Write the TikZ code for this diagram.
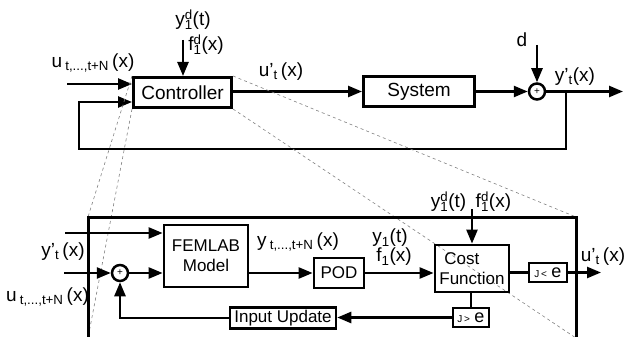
\documentclass[tikz,border=0pt]{standalone}
\usepackage{fontspec}
\setmainfont{Liberation Sans}
\usetikzlibrary{arrows.meta,calc}
% superscript stacked over subscript
\newcommand\ssb[2]{\rlap{\textsuperscript{#1}}\textsubscript{#2}}
\begin{document}
\begin{tikzpicture}[x=1pt,y=-1pt,
  ln/.style={line width=2.5pt},
  arr/.style={line width=2.5pt,-{Triangle[length=14pt,width=11pt]}},
  blk/.style={draw,line width=3pt,inner sep=0pt,font=\fontsize{19}{21}\selectfont},
  blkb/.style={draw,line width=2.8pt,inner sep=0pt,font=\fontsize{17}{20}\selectfont},
  blkc/.style={draw,line width=2.5pt,inner sep=0pt,font=\fontsize{17}{20}\selectfont},
  sumc/.style={draw,circle,line width=2.5pt,minimum size=16pt,inner sep=0pt,font=\fontsize{10}{10}\selectfont},
  lbl/.style={inner sep=0pt,font=\fontsize{19}{21}\selectfont},
  zoomln/.style={gray,line width=0.6pt,dash pattern=on 3pt off 3pt},
  bigbox/.style={line width=3pt}]
\useasboundingbox (0,0) rectangle (625,337);

% ---------- upper loop ----------
\node[blk,minimum width=98pt,minimum height=30pt] (ctrl) at (182.5,92.5) {Controller};
\node[blk,minimum width=111pt,minimum height=30pt] (sys) at (419,91.5) {System};
\node[sumc] (s1) at (537,91.5) {+};

\coordinate (uin) at (67,84);
\coordinate (fbin) at (79,102);
\coordinate (fbc) at (79,149);
\coordinate (ydtop) at (183,40);
\coordinate (dtop) at (537,45);
\coordinate (fbtap) at (566,91.5);
\coordinate (yout) at (623,91.5);

\draw[arr] (uin) -- (ctrl.west |- uin);
\draw[arr] (ydtop) -- (ctrl.north -| ydtop);
\draw[arr] (ctrl.east |- s1) -- (sys.west |- s1);
\draw[arr] (sys.east |- s1) -- (s1.west);
\draw[arr] (dtop) -- (s1.north);
\draw[arr] (s1.east) -- (yout);
\draw[arr] (fbtap) |- (fbc) -- (fbin) -- (ctrl.west |- fbin);

\node[lbl] (lu) at (93,63) {u\,\textsubscript{t,...,t+N}\,(x)};
\node[lbl] (lyd) at (193,20) {y\ssb{d}{1}(t)};
\node[lbl] (lfd) at (206,45) {f\ssb{d}{1}(x)};
\node[lbl] (lup) at (281,72) {u'\textsubscript{t}\,(x)};
\node[lbl] (ld) at (522,40) {d};
\node[lbl] (lyp) at (575,77) {y'\textsubscript{t}(x)};

% ---------- enlarged controller ----------
\coordinate (bnw) at (88,217);
\coordinate (bne) at (576,217);
\coordinate (bsw) at (88,338);
\coordinate (bse) at (576,338);

\draw[zoomln] (ctrl.north west) -- (bnw);
\draw[zoomln] (ctrl.south west) -- (bsw);
\draw[zoomln] (ctrl.north east) -- (bne);
\draw[zoomln] (ctrl.south east) -- (bse);

\draw[bigbox] (bsw) -- (bnw) -- (bne) -- (bse);

\node[blkb,minimum width=84pt,minimum height=62pt,align=center] (fem) at (206,256) {FEMLAB\\Model};
\node[blkb,minimum width=50pt,minimum height=30pt] (pod) at (339,273) {POD};
\node[blkb,minimum width=74pt,minimum height=47pt] (cost) at (472,268.5) {};
\node[inner sep=0pt,font=\fontsize{17}{19.5}\selectfont,align=left] (costtxt) at (cost.center) {\hspace{5pt}Cost\\Function};
\node[blkc,minimum width=38pt,minimum height=19pt] (jlt) at (548,272.5) {{\fontsize{10}{10}\selectfont J\,<\,}\,{\fontsize{18}{18}\selectfont e}};
\node[blkc,minimum width=36pt,minimum height=19pt] (jgt) at (471,317.5) {{\fontsize{10}{10}\selectfont J\,>\,}\,{\fontsize{18}{18}\selectfont e}};
\node[blkc,minimum width=106pt,minimum height=21pt] (iu) at (283,318) {Input Update};
\node[sumc] (s2) at (120,273) {+};

\coordinate (yin) at (65,233);
\coordinate (uin2) at (64,273);
\coordinate (ydarr) at (472,209);
\coordinate (uout) at (601,272.5);

\draw[arr] (yin) -- (fem.west |- yin);
\draw[arr] (uin2) -- (s2.west);
\draw[arr] (s2.east) -- (fem.west |- s2);
\draw[arr] (fem.east |- pod) -- (pod.west);
\draw[arr] (pod.east) -- (cost.west |- pod);
\draw[arr] (ydarr) -- (cost.north);
\draw[ln] (cost.east |- jlt) -- (jlt.west);
\draw[arr] (jlt.east) -- (uout);
\draw[ln] (cost.south -| jgt) -- (jgt.north);
\draw[arr] (jgt.west) -- (iu.east |- jgt);
\draw[arr] (iu.west) -| (s2.south);

\node[lbl] (lyp2) at (63,252) {y'\textsubscript{t}\,(x)};
\node[lbl] (lu2) at (47.5,297) {u\,\textsubscript{t,...,t+N}\,(x)};
\node[lbl] (lyt) at (298,242) {y\,\textsubscript{t,...,t+N}\,(x)};
\node[lbl] (ly1) at (390,238) {y\textsubscript{1}(t)};
\node[lbl] (lf1) at (394,257) {f\textsubscript{1}(x)};
\node[lbl] (lydf) at (471,202) {y\ssb{d}{1}(t)\enspace f\ssb{d}{1}(x)};
\node[lbl] (lup2) at (603,257) {u'\textsubscript{t}\,(x)};
\end{tikzpicture}
\end{document}
